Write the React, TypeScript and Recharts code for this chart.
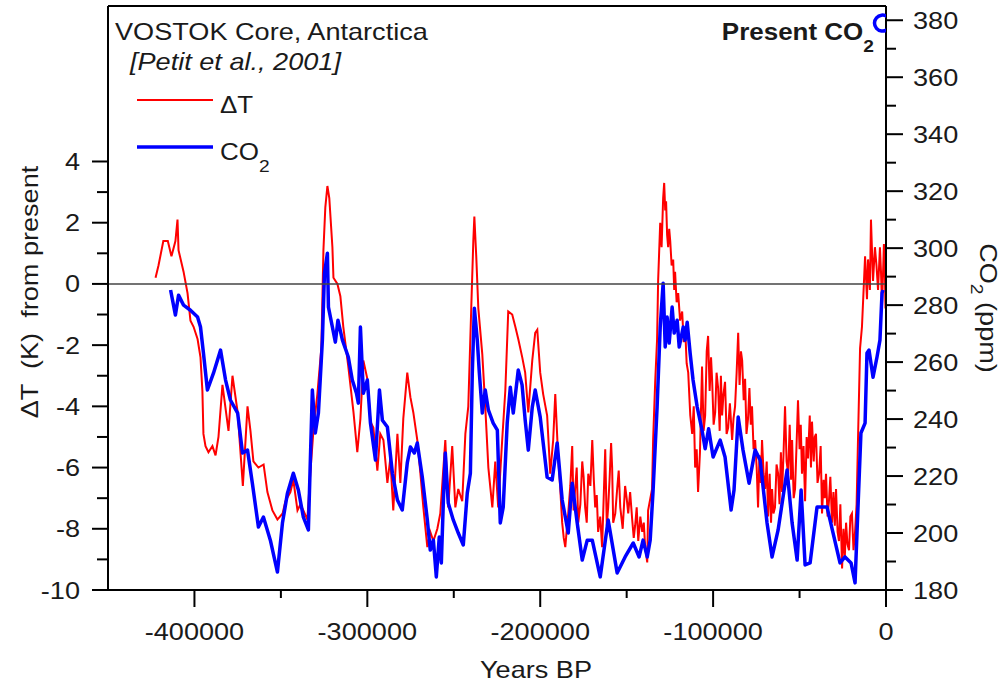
import React from 'react';
import { ComposedChart, Line, Scatter, XAxis, YAxis, ReferenceLine } from 'recharts';

// Vostok record, values: [years BP, value]
const tempSeries: [number, number][] = [
  [-422500, 0.2], [-420800, 0.6], [-418000, 1.4], [-415400, 1.4], [-413300, 0.9], [-411000, 1.4],
  [-409800, 2.1], [-409200, 1.1], [-406300, 0.4], [-404000, -0.3], [-402300, -1.2], [-400500, -1.4],
  [-398200, -1.8], [-396500, -2.4], [-395400, -3.5], [-394800, -4.9], [-393600, -5.3], [-391900, -5.5],
  [-389600, -5.3], [-387800, -5.6], [-386100, -5.0], [-383800, -3.3], [-380300, -4.8], [-378000, -3.0],
  [-375000, -4.2], [-372000, -6.6], [-369300, -4.0], [-367600, -4.8], [-365900, -5.8], [-363000, -6.0],
  [-360000, -5.9], [-357800, -6.8], [-354900, -7.4], [-352000, -7.7], [-349000, -7.5], [-347400, -7.1],
  [-344500, -6.8], [-342800, -6.4], [-340400, -7.4], [-338700, -7.2], [-337000, -7.4], [-334700, -7.7],
  [-333000, -6.2], [-331200, -4.8], [-328900, -3.6], [-326600, -2.1], [-325400, 1.1], [-324300, 2.5],
  [-323100, 3.2], [-322000, 2.8], [-320200, 1.2], [-319600, 0.2], [-317300, 0.0], [-315600, -0.4],
  [-313900, -1.4], [-311000, -2.7], [-308000, -4.2], [-305800, -5.5], [-304000, -4.4], [-302300, -2.5],
  [-300000, -3.1], [-298200, -4.5], [-296500, -4.7], [-294200, -6.1], [-292500, -4.9], [-290700, -5.1],
  [-288400, -6.5], [-286700, -5.7], [-285000, -7.4], [-282600, -4.9], [-280900, -6.5], [-279200, -4.4],
  [-276900, -2.9], [-275100, -3.7], [-273400, -4.2], [-271100, -5.1], [-269300, -6.2], [-267600, -7.3],
  [-265300, -8.6], [-263600, -8.1], [-261800, -8.4], [-259500, -8.0], [-257800, -7.5], [-254900, -5.1],
  [-253200, -7.3], [-250900, -5.3], [-249100, -7.3], [-247400, -6.7], [-245100, -7.1], [-243300, -4.9],
  [-241600, -4.0], [-239900, -0.8], [-238700, 1.4], [-238100, 2.2], [-237000, 0.9], [-235800, -0.8],
  [-233500, -2.3], [-231800, -4.0], [-230000, -6.0], [-227700, -7.3], [-226000, -5.8], [-224300, -7.3],
  [-222000, -5.1], [-220200, -3.5], [-218500, -0.9], [-216200, -1.0], [-214400, -1.4], [-212700, -1.8],
  [-210400, -2.4], [-208700, -2.9], [-206900, -4.2], [-204600, -2.5], [-202900, -1.6], [-201700, -1.5],
  [-200000, -2.9], [-198300, -3.6], [-196000, -4.3], [-194200, -6.2], [-192500, -5.1], [-191300, -3.6],
  [-189600, -5.7], [-188500, -6.6], [-187300, -7.8], [-186400, -8.3], [-185500, -8.6], [-184600, -8.0],
  [-183800, -7.5], [-182600, -6.6], [-181500, -5.3], [-180700, -7.4], [-179800, -6.7], [-178900, -6.0],
  [-178000, -7.8], [-176800, -7.2], [-175700, -5.8], [-174900, -6.3], [-174000, -7.3], [-173100, -7.8],
  [-172200, -6.2], [-171000, -6.6], [-169900, -5.1], [-169000, -6.4], [-168200, -7.3], [-167300, -6.9],
  [-166500, -8.1], [-165300, -7.6], [-164200, -8.6], [-163300, -7.0], [-162400, -5.4], [-161500, -7.9],
  [-160700, -7.3], [-159900, -6.4], [-159000, -5.2], [-158400, -6.0], [-157800, -7.8], [-156600, -7.5],
  [-155500, -6.7], [-154600, -6.1], [-153700, -7.3], [-152300, -8.0], [-150900, -6.6], [-150000, -7.0],
  [-149100, -7.5], [-148000, -6.8], [-146800, -7.7], [-145900, -8.3], [-145100, -7.9], [-144200, -7.3],
  [-143300, -8.4], [-142100, -7.6], [-141000, -8.1], [-140100, -7.8], [-139300, -8.6], [-138100, -9.1],
  [-137600, -7.4], [-135300, -6.7], [-134700, -5.1], [-133500, -3.2], [-132400, -1.8], [-131800, 0.1],
  [-130600, 2.0], [-129800, 1.2], [-128900, 2.8], [-128300, 3.3], [-127700, 2.4], [-127200, 2.7],
  [-126600, 1.6], [-126000, 1.2], [-125400, 1.8], [-124800, 1.4], [-124000, 0.6], [-123100, 0.8],
  [-122500, -0.2], [-122000, 0.4], [-121100, -0.6], [-120200, -0.3], [-119100, -1.2], [-117900, -0.9],
  [-117000, -1.9], [-116200, -1.4], [-115300, -2.6], [-114400, -2.9], [-113200, -4.3], [-112100, -4.9],
  [-111200, -4.0], [-110400, -6.0], [-109500, -5.4], [-108700, -6.8], [-107600, -5.5], [-106400, -2.7],
  [-105500, -4.8], [-104600, -4.3], [-103700, -2.2], [-102900, -1.7], [-102000, -3.5], [-101200, -2.4],
  [-100600, -3.1], [-99700, -4.6], [-98800, -4.2], [-98000, -2.9], [-97100, -3.4], [-96200, -4.8],
  [-95500, -3.0], [-94800, -4.3], [-94000, -3.6], [-93100, -3.2], [-92200, -4.9], [-91300, -4.7],
  [-90300, -3.9], [-89000, -5.1], [-88200, -4.4], [-87300, -4.0], [-86400, -2.9], [-85500, -1.6],
  [-84700, -3.3], [-83900, -2.2], [-83200, -2.5], [-82300, -3.8], [-81500, -3.1], [-80700, -4.9],
  [-79800, -4.4], [-79000, -3.4], [-78200, -4.6], [-77500, -4.0], [-76600, -5.4], [-75700, -5.1],
  [-74800, -6.0], [-74000, -7.3], [-73200, -5.6], [-72400, -6.5], [-71700, -5.1], [-70800, -6.2],
  [-69900, -6.7], [-69000, -5.8], [-68200, -7.6], [-67300, -6.2], [-66500, -7.8], [-65900, -6.7],
  [-65100, -7.5], [-64200, -7.3], [-63300, -5.9], [-62400, -6.2], [-61600, -7.2], [-60800, -5.5],
  [-60100, -6.8], [-59300, -5.6], [-58400, -4.0], [-57500, -5.8], [-56600, -6.2], [-55700, -4.6],
  [-54900, -6.4], [-54300, -5.1], [-53400, -7.0], [-52600, -6.7], [-51700, -5.2], [-50900, -3.8],
  [-50000, -5.4], [-49300, -4.6], [-48600, -6.2], [-47700, -5.3], [-46800, -7.1], [-45900, -5.0],
  [-45100, -5.7], [-44100, -4.3], [-43400, -6.0], [-42800, -4.5], [-41800, -5.8], [-41200, -5.0],
  [-40500, -4.9], [-39600, -6.5], [-38700, -6.2], [-37800, -5.3], [-37000, -7.5], [-36100, -6.4],
  [-35400, -7.0], [-34700, -6.2], [-33800, -7.6], [-33000, -7.1], [-32200, -6.3], [-31200, -7.8],
  [-30400, -6.8], [-29600, -7.9], [-28900, -6.7], [-28000, -8.1], [-27200, -8.4], [-26400, -7.2],
  [-25400, -9.3], [-24600, -8.0], [-23800, -8.9], [-23100, -7.8], [-22300, -8.5], [-21400, -8.7],
  [-20600, -7.6], [-19700, -7.5], [-18800, -8.7], [-17900, -8.1], [-17000, -7.2], [-16200, -5.1],
  [-15000, -2.1], [-13900, -1.4], [-12100, 0.9], [-11000, -0.5], [-10400, 0.8], [-9300, -0.2],
  [-8700, 2.1], [-7500, 0.1], [-6400, 1.2], [-5500, 0.6], [-4600, -0.2], [-3500, 1.2],
  [-2900, 0.4], [-2300, -0.7], [-1200, 1.3], [-800, 0.9], [-300, -0.8],
];

const co2Series: [number, number][] = [
  [-413800, 285.3], [-411000, 276.5], [-409200, 283.5], [-406300, 280.0], [-402300, 278.2], [-398200, 275.8],
  [-396500, 272.3], [-394800, 263.2], [-392500, 250.2], [-389000, 256.1], [-384900, 264.2], [-382000, 253.7],
  [-379200, 246.7], [-375000, 242.1], [-372200, 228.1], [-369300, 229.1], [-366500, 217.5], [-363000, 202.1],
  [-360100, 205.6], [-356100, 197.5], [-352000, 186.3], [-349100, 203.5], [-346200, 214.0], [-342800, 221.0],
  [-339900, 215.1], [-337000, 205.6], [-334100, 201.1], [-331800, 250.2], [-330100, 235.1], [-328300, 242.1],
  [-326000, 267.7], [-324800, 291.2], [-323100, 298.2], [-322500, 279.3], [-320200, 272.3], [-318500, 267.0],
  [-317000, 274.7], [-314400, 267.7], [-311000, 261.8], [-308700, 253.7], [-306300, 249.1], [-305200, 245.6],
  [-304000, 272.3], [-302300, 249.1], [-300000, 253.7], [-298200, 238.6], [-295300, 225.6], [-293000, 250.2],
  [-291300, 239.6], [-288400, 237.2], [-285500, 221.0], [-282600, 211.6], [-279800, 208.1], [-276900, 224.6],
  [-275100, 230.2], [-272800, 228.1], [-271100, 231.6], [-268200, 219.6], [-265300, 204.6], [-263600, 194.0],
  [-261800, 197.5], [-260100, 184.6], [-258400, 198.6], [-257200, 189.5], [-256000, 211.6], [-254900, 228.1],
  [-253200, 210.5], [-250300, 204.6], [-247400, 200.0], [-244500, 195.8], [-242200, 214.0], [-240400, 221.0],
  [-239300, 256.1], [-238100, 278.9], [-236400, 267.7], [-235200, 256.1], [-233500, 242.1], [-231800, 250.2],
  [-230000, 243.2], [-227200, 238.6], [-224800, 236.1], [-223100, 203.5], [-221400, 209.1], [-219100, 238.6],
  [-217300, 251.2], [-215600, 242.1], [-212700, 257.2], [-210500, 252.0], [-208700, 239.6], [-206900, 229.1],
  [-204600, 244.2], [-202900, 250.2], [-200000, 240.7], [-196000, 219.6], [-193100, 218.6], [-190200, 231.6],
  [-187300, 211.6], [-183800, 200.0], [-181500, 217.5], [-178600, 203.5], [-175700, 190.5], [-172800, 197.5],
  [-169900, 197.5], [-165300, 184.6], [-160700, 204.6], [-155500, 186.0], [-150900, 191.6], [-146200, 196.5],
  [-142800, 191.6], [-140500, 197.5], [-138100, 191.6], [-136400, 197.5], [-134700, 215.1], [-132400, 244.2],
  [-130600, 272.3], [-128900, 287.7], [-127700, 265.3], [-126600, 275.8], [-125400, 266.7], [-123700, 279.3],
  [-122500, 270.2], [-120800, 274.7], [-119600, 265.3], [-117300, 272.3], [-116200, 267.7], [-115000, 274.0],
  [-113300, 263.2], [-111600, 253.7], [-109200, 244.2], [-106400, 236.1], [-104600, 229.6], [-102600, 236.6],
  [-100000, 226.7], [-95900, 232.6], [-93100, 226.7], [-89600, 208.1], [-87900, 215.1], [-85500, 240.7],
  [-82700, 229.1], [-79200, 217.5], [-75700, 229.1], [-72800, 225.6], [-68800, 203.5], [-65900, 191.6],
  [-62400, 201.1], [-57200, 222.1], [-54300, 203.5], [-51400, 190.5], [-49100, 215.1], [-46800, 188.8],
  [-43900, 189.5], [-39900, 209.1], [-34100, 209.1], [-30600, 200.0], [-26600, 189.5], [-23700, 191.6],
  [-20200, 189.5], [-17900, 182.5], [-16200, 209.1], [-14500, 235.1], [-12100, 238.6], [-11000, 263.2],
  [-9800, 264.2], [-7500, 254.7], [-5200, 261.8], [-3500, 267.7], [-2300, 284.2], [-1700, 285.3],
];

const presentCo2: [number, number][] = [[0, 379]];

const yearTicks = [-400000, -350000, -300000, -250000, -200000, -150000, -100000, -50000, 0];
const tempTicks = [-10, -9, -8, -7, -6, -5, -4, -3, -2, -1, 0, 1, 2, 3, 4];
const co2Ticks = [180, 190, 200, 210, 220, 230, 240, 250, 260, 270, 280, 290, 300, 310, 320, 330, 340, 350, 360, 370, 380];

const TEMP_MAX = 9.08;

const tempData = tempSeries.map(([year, dT]) => ({ year, dT }));
const co2Data = co2Series.map(([year, co2]) => ({ year, co2 }));
const presentData = presentCo2.map(([year, co2]) => ({ year, co2 }));

const FONT = "Arial, 'Liberation Sans', Helvetica, sans-serif";
const SX = 1.13; // text in the source is a bit wider than plain Arial
const INK = '#1a1a1a';

function Txt({ x, y, rot = 0, size, anchor = 'start', weight, italic, children }: any) {
  return (
    <text
      transform={`translate(${x},${y}) rotate(${rot}) scale(${SX},1)`}
      fontSize={size}
      fontFamily={FONT}
      textAnchor={anchor}
      fontWeight={weight}
      fontStyle={italic ? 'italic' : undefined}
      fill={INK}
      style={{ whiteSpace: 'pre' }}
    >
      {children}
    </text>
  );
}

const LeftTick = ({ x, y, payload }: any) => {
  const v = payload.value;
  const major = v % 2 === 0;
  return (
    <g>
      <line x1={x} x2={x - (major ? 16 : 11)} y1={y} y2={y} stroke="#000" strokeWidth={2} />
      {major && <Txt x={x - 28} y={y + 8.5} size={24} anchor="end">{String(v)}</Txt>}
    </g>
  );
};

const RightTick = ({ x, y, payload }: any) => {
  const v = payload.value;
  const major = v % 20 === 0;
  return (
    <g>
      <line x1={x} x2={x + (major ? 17 : 10)} y1={y} y2={y} stroke="#000" strokeWidth={2} />
      {major && <Txt x={x + 27} y={y + 8.5} size={24}>{String(v)}</Txt>}
    </g>
  );
};

const BottomTick = ({ x, y, payload }: any) => {
  const v = payload.value;
  const major = v % 100000 === 0;
  return (
    <g>
      <line x1={x} x2={x} y1={y} y2={y + (major ? 17 : 8)} stroke="#000" strokeWidth={2} />
      {major && <Txt x={x} y={y + 50} size={24} anchor="middle">{String(v)}</Txt>}
    </g>
  );
};

// open circle cut by the right axis -> reads as a "C"
const PresentMark = ({ cx, cy }: any) => {
  const r = 8;
  const ox = cx - 3.5;
  return (
    <path
      d={`M ${ox + 4.5} ${cy - 6.6} A ${r} ${r} 0 1 0 ${ox + 4.5} ${cy + 6.6}`}
      fill="none"
      stroke="#0000ff"
      strokeWidth={3.5}
    />
  );
};

export default function App() {
  return (
    <div style={{ position: 'absolute', left: 0, top: 0, width: 1002, height: 686, background: '#fff' }}>
      <ComposedChart width={1002} height={686} margin={{ top: 6, right: 0, bottom: 0, left: 0 }}>
        <XAxis
          dataKey="year"
          type="number"
          domain={[-450000, 0]}
          allowDataOverflow
          ticks={yearTicks}
          interval={0}
          tickSize={0}
          tickMargin={0}
          tickLine={false}
          tick={<BottomTick />}
          height={96}
          axisLine={{ stroke: '#000', strokeWidth: 2 }}
        />
        <YAxis
          yAxisId="left"
          type="number"
          domain={[-10, TEMP_MAX]}
          allowDataOverflow
          ticks={tempTicks}
          interval={0}
          tickSize={0}
          tickMargin={0}
          tickLine={false}
          tick={<LeftTick />}
          width={108}
          axisLine={{ stroke: '#000', strokeWidth: 2 }}
        />
        <YAxis
          yAxisId="right"
          orientation="right"
          type="number"
          domain={[180, 385]}
          allowDataOverflow
          ticks={co2Ticks}
          interval={0}
          tickSize={0}
          tickMargin={0}
          tickLine={false}
          tick={<RightTick />}
          width={116}
          axisLine={{ stroke: '#000', strokeWidth: 2 }}
        />
        <Line
          yAxisId="left"
          data={tempData}
          dataKey="dT"
          type="linear"
          stroke="#ff0000"
          strokeWidth={2}
          dot={false}
          activeDot={false}
          isAnimationActive={false}
        />
        <Line
          yAxisId="right"
          data={co2Data}
          dataKey="co2"
          type="linear"
          stroke="#0000ff"
          strokeWidth={3.5}
          strokeLinejoin="round"
          dot={false}
          activeDot={false}
          isAnimationActive={false}
        />
        <Scatter
          yAxisId="right"
          data={presentData}
          dataKey="co2"
          shape={<PresentMark />}
          isAnimationActive={false}
        />
        <ReferenceLine yAxisId="left" y={0} stroke="#444" strokeWidth={1.5} />
        <ReferenceLine yAxisId="left" y={TEMP_MAX} stroke="#000" strokeWidth={2} />
      </ComposedChart>

      <svg
        width={1002}
        height={686}
        style={{ position: 'absolute', left: 0, top: 0, pointerEvents: 'none' }}
      >
        <Txt x={115} y={40} size={24}>VOSTOK Core, Antarctica</Txt>
        <Txt x={130} y={70} size={24} italic>[Petit et al., 2001]</Txt>

        <line x1={137} x2={213} y1={100} y2={100} stroke="#ff0000" strokeWidth={2} />
        <Txt x={220} y={113} size={23}>ΔT</Txt>
        <line x1={137} x2={213} y1={147} y2={147} stroke="#0000ff" strokeWidth={3.5} />
        <Txt x={220} y={160} size={23}>
          CO<tspan fontSize={17} dy={12}>2</tspan>
        </Txt>

        <Txt x={874} y={40} size={23} anchor="end" weight="bold">
          Present CO<tspan fontSize={17} dy={12}>2</tspan>
        </Txt>

        <Txt x={38} y={292} rot={-90} size={24} anchor="middle">ΔT  (K)  from present</Txt>
        <Txt x={980} y={308} rot={90} size={24} anchor="middle">
          CO<tspan fontSize={17} dy={9}>2</tspan>
          <tspan dy={-9}> (ppm)</tspan>
        </Txt>
        <Txt x={536} y={678} size={24} anchor="middle">Years BP</Txt>
      </svg>
    </div>
  );
}
